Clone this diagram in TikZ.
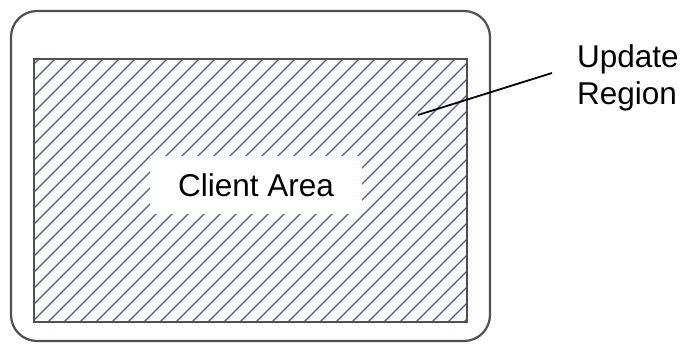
\documentclass[tikz,border=0pt]{standalone}
\usepackage{fontspec}
\setmainfont{Liberation Sans}

\definecolor{hatchblue}{HTML}{3F62A0}
\definecolor{framegray}{HTML}{505050}

\tikzset{
  frameline/.style={framegray, line width=2.2pt},
  hatchline/.style={hatchblue, line width=1.4pt},
  bigtext/.style={font=\fontsize{31.5}{37}\selectfont}
}

\begin{document}
\begin{tikzpicture}[x=1pt,y=-1pt]

  \useasboundingbox (0,0) rectangle (681,344);

  % window frame
  \draw[frameline, rounded corners=26pt] (11,11) rectangle (490,341);

  % hatched client area
  \begin{scope}
    \clip (34,59) rectangle (467,322);
    \foreach \x in {-272,-256,...,480}
      \draw[hatchline] (\x,322) -- ++(263,-263);
  \end{scope}
  \draw[frameline] (34,59) rectangle (467,322);

  \node[bigtext, fill=white, minimum width=212pt, minimum height=58pt] (client) at (256,185) {Client Area};

  % label and leader
  \node[bigtext, align=left, anchor=west, inner sep=0pt] (region) at (577,78) {Update\\Region};
  \coordinate (tip) at (418,115);
  \coordinate (lead) at (552,73);
  \draw[line width=1.8pt] (tip) -- (lead);

\end{tikzpicture}
\end{document}
